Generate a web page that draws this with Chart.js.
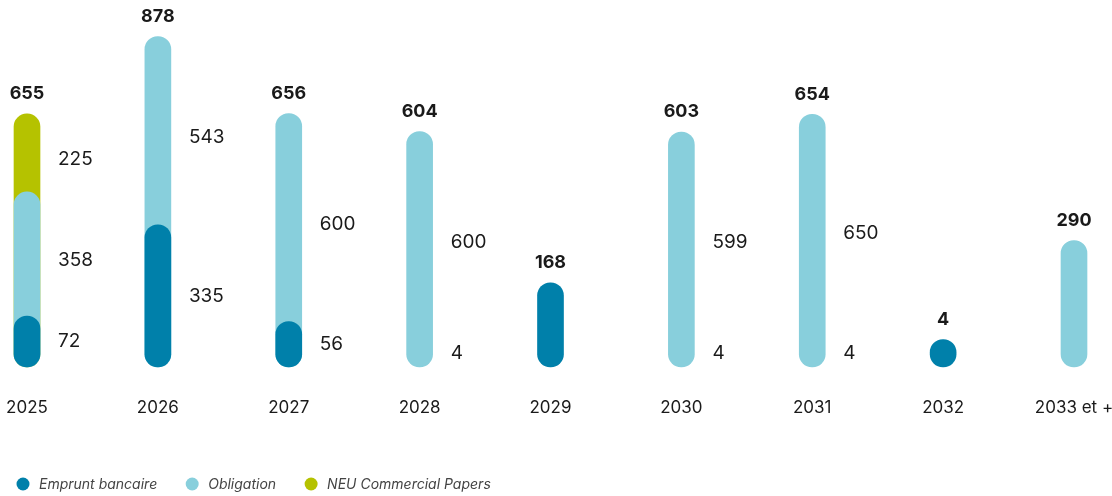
<!DOCTYPE html>
<html>
<head>
<meta charset="utf-8">
<script src="https://cdn.jsdelivr.net/npm/chart.js@4/dist/chart.umd.min.js"></script>
<style>
  html, body { margin: 0; padding: 0; background: #fff; }
</style>
</head>
<body>
<canvas id="chart" width="1112" height="496"></canvas>
<script>
// Chart data (M€)
const years = ['2025', '2026', '2027', '2028', '2029', '2030', '2031', '2032', '2033 et +'];
const emprunt = [72, 335, 56, 4, 168, 4, 4, 4, 0];
const obligation = [358, 543, 600, 600, 0, 599, 650, 0, 290];
const neu = [225, 0, 0, 0, 0, 0, 0, 0, 0];
const seriesNames = ['Emprunt bancaire', 'Obligation', 'NEU Commercial Papers'];
const colors = ['#0080AA', '#88CFDC', '#B5C200'];

const FONT = 'Inter, "Open Sans", sans-serif';
const CAP = 13; // pill ends overshoot the value by half the bar width

const totals = years.map((_, i) => emprunt[i] + obligation[i] + neu[i]);

// Each segment is a pill drawn from zero up to its cumulative top,
// lower segments painted over the upper ones
const empruntTop = emprunt.map((v, i) => {
  if (!v) return null;
  // tiny bank loans under a bond stack are not drawn in the original
  if (v < 10 && obligation[i] + neu[i] > 0) return null;
  return v;
});
const obligationTop = obligation.map((v, i) => v ? emprunt[i] + v : null);
const neuTop = neu.map((v, i) => v ? totals[i] : null);

// Stretch every bar by CAP pixels at both ends so the rounded caps sit outside the values
const pillCaps = {
  id: 'pillCaps',
  afterDatasetsUpdate(chart) {
    chart.data.datasets.forEach((ds, di) => {
      chart.getDatasetMeta(di).data.forEach(el => {
        el.y -= CAP;
        el.base += CAP;
        el.height = el.base - el.y;
      });
    });
  }
};

// Segment values beside the bars, totals above
const valueLabels = {
  id: 'valueLabels',
  afterDatasetsDraw(chart) {
    const ctx = chart.ctx;
    const xs = chart.scales.x;
    const ys = chart.scales.y;
    ctx.save();
    ctx.fillStyle = '#1a1a1a';
    years.forEach((year, i) => {
      const x = xs.getPixelForValue(i);
      const segs = [
        { v: emprunt[i], lo: 0 },
        { v: obligation[i], lo: emprunt[i] },
        { v: neu[i], lo: emprunt[i] + obligation[i] }
      ].filter(s => s.v > 0);
      if (segs.length > 1) {
        ctx.font = '19px ' + FONT;
        ctx.textAlign = 'left';
        ctx.textBaseline = 'middle';
        segs.forEach(s => {
          const y = ys.getPixelForValue(s.lo + s.v / 2) - (s.lo === 0 ? 0 : 6.5);
          ctx.fillText(String(s.v), x + 31, y);
        });
      }
      ctx.font = 'bold 18px ' + FONT;
      ctx.textAlign = 'center';
      ctx.textBaseline = 'middle';
      ctx.fillText(String(totals[i]), x, ys.getPixelForValue(totals[i]) - CAP - 20);
    });
    ctx.restore();
  }
};

// Legend along the bottom edge
const bottomLegend = {
  id: 'bottomLegend',
  afterDraw(chart) {
    const ctx = chart.ctx;
    ctx.save();
    ctx.font = 'italic 14px ' + FONT;
    ctx.textBaseline = 'middle';
    ctx.textAlign = 'left';
    let x = 23;
    const y = 484;
    chart.data.datasets.forEach(ds => {
      ctx.fillStyle = ds.backgroundColor;
      ctx.beginPath();
      ctx.arc(x, y, 6.5, 0, Math.PI * 2);
      ctx.fill();
      ctx.fillStyle = '#444';
      ctx.fillText(ds.label, x + 16, y + 1);
      x += 16 + ctx.measureText(ds.label).width + 35;
    });
    ctx.restore();
  }
};

const barStyle = {
  grouped: false,
  clip: false,
  barThickness: 26,
  borderRadius: CAP,
  borderSkipped: false
};

new Chart(document.getElementById('chart'), {
  type: 'bar',
  data: {
    labels: years,
    datasets: [
      { label: seriesNames[0], data: empruntTop, backgroundColor: colors[0], ...barStyle },
      { label: seriesNames[1], data: obligationTop, backgroundColor: colors[1], ...barStyle },
      { label: seriesNames[2], data: neuTop, backgroundColor: colors[2], ...barStyle }
    ]
  },
  options: {
    responsive: false,
    animation: false,
    layout: { autoPadding: false, padding: { top: 42, right: 38, bottom: 78, left: 0 } },
    scales: {
      x: {
        offset: false,
        grid: { display: false, drawTicks: false },
        border: { display: false },
        ticks: { color: '#1a1a1a', font: { family: FONT, size: 17 }, padding: 44, maxRotation: 0, autoSkip: false },
        afterFit(scale) {
          scale.height = 64;
          scale.paddingLeft = 0;
          scale.paddingRight = 0;
        }
      },
      y: {
        min: 0,
        max: 900,
        grid: { display: false, drawTicks: false },
        border: { display: false },
        ticks: { display: false },
        afterFit(scale) { scale.width = 27; }
      }
    },
    plugins: {
      legend: { display: false },
      tooltip: { enabled: false }
    }
  },
  plugins: [pillCaps, valueLabels, bottomLegend]
});
</script>
</body>
</html>
